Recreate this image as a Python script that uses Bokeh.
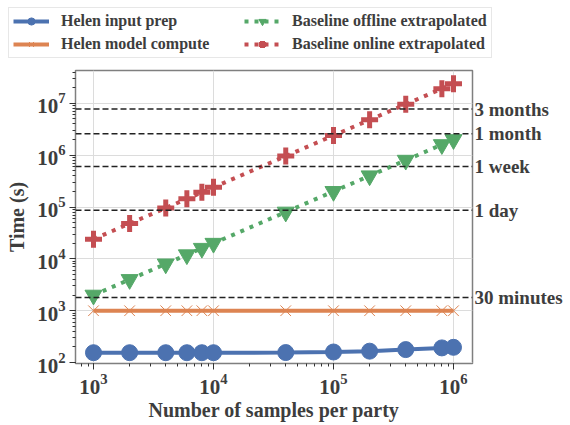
from bokeh.plotting import figure
from bokeh.models import Legend, LegendItem, Span, LogAxis, FixedTicker
from bokeh.embed import file_html
from bokeh.resources import INLINE

samples = [1e3, 2e3, 4e3, 6e3, 8e3, 1e4, 4e4, 1e5, 2e5, 4e5, 8e5, 1e6]
helen_prep = [155, 155, 155, 155, 155, 155, 156, 160, 166, 178, 192, 197]
helen_compute = [1000, 1000, 1000, 1000, 1000, 1000, 1000, 1000, 1000, 1000, 1000, 1000]
offline = [2.0e3, 4.0e3, 8.0e3, 1.2e4, 1.6e4, 2.0e4, 8.0e4, 2.0e5, 4.0e5, 8.0e5, 1.6e6, 2.0e6]
online = [2.4e4, 4.8e4, 9.6e4, 1.44e5, 1.92e5, 2.4e5, 9.6e5, 2.4e6, 4.8e6, 9.6e6, 1.92e7, 2.4e7]
series_names = ["Helen input prep", "Helen model compute",
                "Baseline offline extrapolated", "Baseline online extrapolated"]
ref_values = [1800, 86400, 604800, 2592000, 7776000]
ref_labels = ["30 minutes", "1 day", "1 week", "1 month", "3 months"]

FONT = "Liberation Serif"
TXT = "#3d3d3d"
BLUE, ORANGE, GREEN, RED = "#4C72B0", "#DD8452", "#55A868", "#C44E52"

p = figure(x_axis_type="log", y_axis_type="log",
           x_range=(708, 1.44e6), y_range=(96, 4.3e7),
           frame_width=397, frame_height=293,
           min_border_left=75, min_border_right=98, min_border_top=8, min_border_bottom=62,
           output_backend="svg", toolbar_location=None)
p.outline_line_color = "#7f7f7f"
p.outline_line_width = 1.5
p.background_fill_color = "white"
p.grid.grid_line_color = "#dcdcdc"
p.grid.grid_line_width = 1

for ax in (p.xaxis, p.yaxis):
    ax.axis_line_color = "#7f7f7f"
    ax.major_tick_line_color = "#333333"
    ax.minor_tick_line_color = "#333333"
    ax.major_tick_in = 0
    ax.major_tick_out = 6
    ax.minor_tick_in = 0
    ax.minor_tick_out = 3
    ax.major_label_text_font = FONT
    ax.major_label_text_font_style = "bold"
    ax.major_label_text_font_size = "21px"
    ax.major_label_text_color = TXT
    ax.axis_label_text_font = FONT
    ax.axis_label_text_font_style = "bold"
    ax.axis_label_text_font_size = "20px"
    ax.axis_label_text_color = TXT
p.xaxis.axis_label = "Number of samples per party"
p.yaxis.axis_label = "Time (s)"
p.xaxis.axis_label_standoff = 2
p.yaxis.axis_label_standoff = 6
p.xaxis.major_label_standoff = 4
p.yaxis.major_label_standoff = 4

for v in ref_values:
    p.add_layout(Span(location=v, dimension="width", line_color="#222222",
                      line_dash="6 3", line_width=1.5))

ref_axis = LogAxis(ticker=FixedTicker(ticks=ref_values, minor_ticks=[]),
                   major_label_overrides={float(v): t for v, t in zip(ref_values, ref_labels)},
                   axis_line_color=None, major_tick_line_color=None, minor_tick_line_color=None,
                   major_tick_out=0, minor_tick_out=0,
                   major_label_text_font=FONT, major_label_text_font_style="bold",
                   major_label_text_font_size="19px", major_label_text_color=TXT,
                   major_label_standoff=2, major_label_text_baseline="alphabetic")
p.add_layout(ref_axis, "right")

def draw(fig):
    r = []
    r.append(fig.line(samples, helen_prep, line_color=BLUE, line_width=4))
    r.append(fig.scatter(samples, helen_prep, marker="circle", size=16, fill_color=BLUE, line_color=BLUE))
    r.append(fig.line(samples, helen_compute, line_color=ORANGE, line_width=4))
    r.append(fig.scatter(samples, helen_compute, marker="x", size=15, line_color=ORANGE, line_width=1))
    r.append(fig.line(samples, offline, line_color=GREEN, line_width=4, line_dash="4 6"))
    r.append(fig.scatter(samples, offline, marker="inverted_triangle", size=17, fill_color=GREEN, line_color=GREEN))
    r.append(fig.line(samples, online, line_color=RED, line_width=4, line_dash="4 6"))
    r.append(fig.scatter(samples, online, marker="cross", size=17, line_color=RED, line_width=5))
    return r

draw(p)

# legend strip on top (its own ranges keep the series out of view; only the legend shows)
lg = figure(width=570, height=62, x_range=(0, 1), y_range=(0, 1),
            min_border_left=0, min_border_right=0, min_border_top=0, min_border_bottom=0,
            output_backend="svg", toolbar_location=None)
lg.axis.visible = False
lg.grid.visible = False
lg.outline_line_color = None
rr = draw(lg)
legend = Legend(items=[LegendItem(label=n, renderers=[rr[2 * i], rr[2 * i + 1]])
                       for i, n in enumerate(series_names)],
                location=(8, 4), ncols=2,
                label_text_font=FONT, label_text_font_style="bold", label_text_font_size="16px",
                label_text_color=TXT, glyph_width=36, glyph_height=18, label_standoff=12,
                label_width=178, spacing=5, padding=4, margin=0,
                border_line_color="#d0d0d0", border_line_width=1,
                background_fill_color="white", background_fill_alpha=1.0)
lg.add_layout(legend, "center")

open("out.html", "w").write(file_html([lg, p], INLINE))
